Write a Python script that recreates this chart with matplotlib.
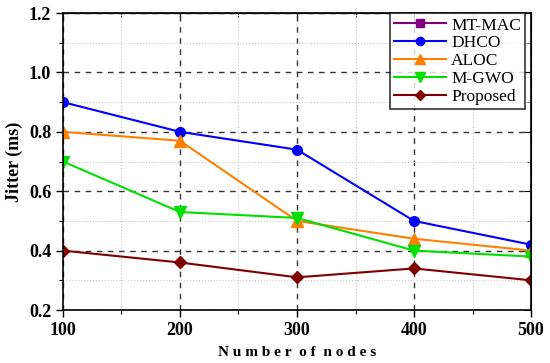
import matplotlib.pyplot as plt
from matplotlib.ticker import MultipleLocator

nodes = [100, 200, 300, 400, 500]
mt_mac = []  # listed in the legend, no visible points in the figure
dhco = [0.90, 0.80, 0.74, 0.50, 0.42]
aloc = [0.80, 0.77, 0.50, 0.44, 0.40]
m_gwo = [0.70, 0.53, 0.51, 0.40, 0.38]
proposed = [0.40, 0.36, 0.31, 0.34, 0.30]

plt.rcParams['font.family'] = ['Liberation Serif', 'DejaVu Serif']

fig = plt.figure(figsize=(5.5, 3.63), dpi=100)
ax = fig.add_axes([0.1145, 0.146, 0.851, 0.818])

ax.plot(nodes[:len(mt_mac)], mt_mac, color='#800080', marker='s', ms=6, lw=1.5, label='MT-MAC')
ax.plot(nodes, dhco, color='#0000FF', marker='o', ms=7, lw=1.5, label='DHCO')
ax.plot(nodes, aloc, color='#FF8000', marker='^', ms=8, lw=1.5, label='ALOC')
ax.plot(nodes, m_gwo, color='#00E000', marker='v', ms=8, lw=1.5, label='M-GWO')
ax.plot(nodes, proposed, color='#800000', marker='D', ms=6, lw=1.5, label='Proposed')

ax.set_xlim(100, 500)
ax.set_ylim(0.2, 1.2)
ax.xaxis.set_major_locator(MultipleLocator(100))
ax.xaxis.set_minor_locator(MultipleLocator(50))
ax.yaxis.set_major_locator(MultipleLocator(0.2))
ax.yaxis.set_minor_locator(MultipleLocator(0.1))
ax.yaxis.set_major_formatter('{x:.1f}')

# grid: dashed at major, dotted light at minor
ax.grid(which='major', color='#333333', linestyle=(0, (4, 4)), lw=1.0)
ax.grid(which='minor', color='#c8c8c8', linestyle=':', lw=0.8)
ax.set_axisbelow(True)

ax.tick_params(which='major', direction='out', length=5, width=1.0, labelsize=13)
ax.tick_params(which='minor', direction='out', length=3, width=0.8)
for lab in ax.get_xticklabels() + ax.get_yticklabels():
    lab.set_fontweight('bold')

# inward ticks on top and right
top = ax.secondary_xaxis('top')
top.xaxis.set_major_locator(MultipleLocator(100))
top.xaxis.set_minor_locator(MultipleLocator(50))
top.tick_params(which='both', direction='in', labeltop=False, length=5)
top.tick_params(which='minor', length=3)
right = ax.secondary_yaxis('right')
right.yaxis.set_major_locator(MultipleLocator(0.2))
right.yaxis.set_minor_locator(MultipleLocator(0.1))
right.tick_params(which='both', direction='in', labelright=False, length=5)
right.tick_params(which='minor', length=3)

for s in ax.spines.values():
    s.set_linewidth(1.2)

fig.text(0.54, 0.03, 'N u m b e r  o f  n o d e s', fontsize=11, fontweight='bold',
         ha='center', va='center')
ax.set_ylabel('Jitter (ms)', fontsize=13, fontweight='bold', labelpad=4)

leg = ax.legend(loc='upper right', bbox_to_anchor=(0.988, 1.0), fontsize=12.5, handlelength=3.0,
                frameon=True, fancybox=False, edgecolor='black', borderpad=0.25,
                labelspacing=0.1, handletextpad=0.3, borderaxespad=0.0, markerscale=0.85)
leg.get_frame().set_linewidth(1.2)

fig.savefig('out.png', dpi=100)
